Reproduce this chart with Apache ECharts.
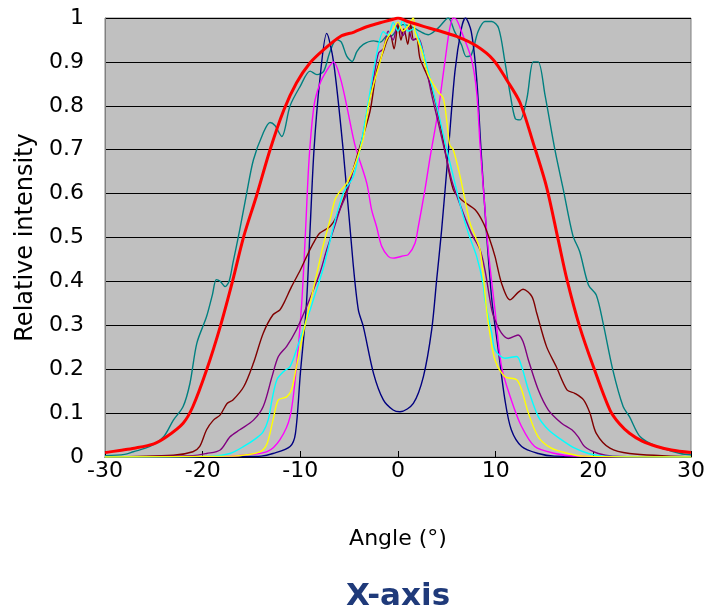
<!DOCTYPE html>
<html>
<head>
<meta charset="utf-8">
<script src="https://cdn.jsdelivr.net/npm/echarts@6/dist/echarts.min.js"></script>
<style>html,body{margin:0;padding:0;background:#fff}#c{width:709px;height:614px}</style>
</head>
<body>
<div id="c"></div>
<script>
// Tick labels
var xTicks = [-30, -20, -10, 0, 10, 20, 30];
var yTicks = [0, 0.1, 0.2, 0.3, 0.4, 0.5, 0.6, 0.7, 0.8, 0.9, 1];

// Series values: [angle (deg), relative intensity]
var teal = [[-30,0.003],[-28,0.006],[-27.1,0.012],[-25.4,0.024],[-24,0.046],[-23,0.084],[-22,0.115],[-21.3,0.168],[-20.6,0.259],[-19.6,0.32],[-19.0,0.37],[-18.6,0.404],[-18.2,0.40],[-17.7,0.388],[-17.3,0.40],[-16.9,0.442],[-16.2,0.518],[-15.5,0.6],[-14.8,0.677],[-13.8,0.738],[-13.1,0.762],[-12.6,0.755],[-11.9,0.73],[-11.05,0.80],[-10,0.845],[-9,0.879],[-8.3,0.871],[-7.6,0.879],[-7,0.921],[-6.3,0.951],[-5.8,0.945],[-5.25,0.913],[-4.7,0.901],[-4.2,0.924],[-3.55,0.94],[-2.5,0.948],[-1.8,0.945],[-1.2,0.958],[-0.6,0.96],[-0.1,0.974],[0.5,0.985],[1.4,0.98],[2.2,0.97],[3.1,0.962],[4.1,0.977],[5.15,1.0],[5.8,0.969],[6.5,0.939],[7,0.912],[7.5,0.916],[8.2,0.969],[8.9,0.992],[9.6,0.992],[10.3,0.977],[10.95,0.90],[11.5,0.825],[12,0.771],[12.5,0.768],[13.2,0.817],[13.85,0.90],[14.35,0.90],[15.05,0.825],[16.1,0.696],[16.9,0.612],[17.9,0.505],[18.6,0.468],[19.5,0.392],[20.3,0.369],[21,0.305],[22,0.198],[23.05,0.115],[23.7,0.092],[24.8,0.046],[26.5,0.024],[28.9,0.008],[30,0.005]];
var navy = [[-30,0],[-16,0.001],[-14,0.002],[-12.8,0.008],[-11.05,0.024],[-10.5,0.054],[-10.0,0.19],[-9.4,0.34],[-9.0,0.52],[-8.6,0.70],[-8.0,0.86],[-7.3,0.965],[-6.6,0.90],[-5.6,0.696],[-4.6,0.442],[-4.06,0.335],[-3.55,0.297],[-2.5,0.19],[-1.5,0.13],[-0.5,0.107],[0.2,0.103],[1.57,0.122],[2.6,0.183],[3.45,0.29],[3.96,0.404],[4.47,0.518],[5.15,0.696],[5.83,0.878],[6.5,0.977],[6.9,1.0],[7.5,0.969],[8.05,0.863],[8.5,0.70],[9.0,0.53],[9.6,0.36],[10.27,0.244],[10.95,0.13],[11.6,0.062],[12.66,0.024],[14.36,0.008],[16,0.002],[30,0]];
var magenta = [[-30,0],[-17,0.002],[-15.5,0.005],[-13.4,0.012],[-12.1,0.039],[-11.05,0.092],[-10.4,0.206],[-9.86,0.35],[-9.5,0.5],[-9.1,0.68],[-8.6,0.80],[-8.0,0.85],[-7.3,0.88],[-6.6,0.90],[-5.9,0.863],[-5.25,0.80],[-4.4,0.71],[-3.2,0.624],[-2.7,0.563],[-2.2,0.525],[-1.67,0.48],[-1.0,0.457],[-0.5,0.453],[0,0.455],[0.5,0.458],[1.05,0.461],[1.74,0.487],[2.08,0.525],[2.76,0.609],[3.3,0.685],[4.1,0.787],[4.8,0.90],[5.3,0.977],[5.66,1.0],[6.0,0.996],[6.5,0.969],[7.5,0.908],[8.05,0.832],[8.4,0.711],[8.7,0.624],[9.24,0.472],[9.93,0.335],[10.6,0.206],[11.6,0.13],[12.66,0.069],[14,0.024],[16.1,0.008],[18,0.002],[30,0]];
var maroon = [[-30,0],[-23,0.004],[-21,0.012],[-20.3,0.024],[-19.6,0.062],[-18.9,0.084],[-18.2,0.096],[-17.5,0.122],[-16.9,0.13],[-15.8,0.16],[-14.8,0.214],[-13.8,0.282],[-12.8,0.324],[-12.1,0.335],[-11.7,0.35],[-10.9,0.388],[-10.0,0.426],[-9.35,0.457],[-8.67,0.487],[-8.0,0.51],[-6.96,0.525],[-6.27,0.548],[-5.6,0.586],[-4.9,0.632],[-4.0,0.70],[-2.87,0.787],[-2.2,0.878],[-1.5,0.924],[-1.1,0.95],[-0.8,0.962],[-0.4,0.93],[0,0.985],[0.3,0.95],[0.6,0.975],[1.0,0.94],[1.3,0.985],[1.6,0.95],[1.9,0.954],[2.25,0.908],[3.1,0.863],[3.8,0.81],[4.47,0.741],[4.8,0.70],[5.66,0.609],[6.5,0.586],[7.9,0.563],[8.74,0.533],[9.4,0.495],[9.93,0.457],[10.6,0.396],[11.46,0.358],[12.3,0.375],[12.8,0.382],[13.7,0.366],[14.2,0.328],[15.2,0.252],[16.2,0.206],[17.3,0.153],[18.1,0.145],[19.0,0.13],[19.65,0.10],[20.3,0.054],[21.7,0.02],[23.7,0.008],[30,0]];
var purple = [[-30,0],[-21,0.003],[-19.6,0.008],[-18.2,0.016],[-17.2,0.046],[-16.2,0.062],[-14.8,0.084],[-13.8,0.115],[-12.9,0.183],[-12.25,0.229],[-11.4,0.252],[-10.4,0.29],[-9.35,0.343],[-8.0,0.419],[-7.3,0.472],[-6.6,0.518],[-5.94,0.563],[-5.25,0.601],[-4.57,0.655],[-3.9,0.70],[-3.2,0.78],[-2.5,0.863],[-2.0,0.92],[-1.5,0.93],[-1.0,0.97],[-0.5,0.95],[0,0.99],[0.5,0.96],[1.0,0.98],[1.5,0.95],[2.08,0.954],[2.76,0.90],[3.45,0.825],[4.1,0.764],[4.8,0.696],[5.5,0.63],[6.17,0.586],[7.5,0.51],[8.4,0.472],[8.9,0.426],[9.6,0.335],[9.93,0.312],[10.6,0.282],[11.3,0.27],[12.3,0.278],[12.8,0.263],[13.35,0.221],[14.36,0.153],[15.4,0.107],[16.75,0.077],[17.8,0.062],[18.45,0.046],[19.1,0.024],[20.5,0.008],[22,0.002],[30,0]];
var cyan = [[-30,0],[-19,0.002],[-17.2,0.008],[-15.8,0.024],[-14.5,0.043],[-13.8,0.058],[-13.3,0.084],[-12.9,0.13],[-12.4,0.176],[-11.7,0.195],[-11.05,0.206],[-10.4,0.244],[-9.7,0.29],[-9.0,0.335],[-8.67,0.358],[-7.6,0.434],[-6.6,0.525],[-5.6,0.601],[-4.57,0.639],[-3.9,0.70],[-3.2,0.787],[-2.2,0.916],[-1.5,0.969],[-1.0,0.96],[-0.5,0.99],[0,0.97],[0.5,0.995],[1.0,0.97],[1.6,0.975],[2.43,0.931],[3.1,0.878],[4.1,0.787],[4.8,0.718],[5.83,0.624],[6.5,0.563],[7.2,0.51],[8.05,0.457],[8.7,0.396],[8.9,0.358],[9.6,0.282],[9.93,0.244],[10.95,0.225],[12.15,0.229],[12.66,0.206],[13.35,0.153],[14.36,0.092],[15.4,0.062],[16.75,0.039],[18.1,0.02],[19.5,0.008],[21,0.002],[30,0]];
var yellow = [[-30,0],[-17,0.002],[-15.5,0.005],[-14.1,0.012],[-13.4,0.031],[-12.8,0.084],[-12.25,0.13],[-11.4,0.137],[-10.9,0.153],[-10.4,0.206],[-9.7,0.282],[-9.0,0.35],[-8.3,0.419],[-7.6,0.487],[-6.96,0.54],[-6.45,0.586],[-5.94,0.605],[-5.25,0.624],[-4.5,0.66],[-3.9,0.70],[-3.55,0.726],[-2.87,0.817],[-1.84,0.90],[-1.2,0.95],[-0.6,0.97],[0,0.99],[0.5,0.97],[1.0,0.98],[1.57,1.0],[1.74,0.969],[2.43,0.924],[3.1,0.87],[4.1,0.832],[4.64,0.817],[5.0,0.764],[5.3,0.711],[5.66,0.70],[6.35,0.64],[6.86,0.586],[7.37,0.533],[8.05,0.495],[8.4,0.472],[8.74,0.411],[9.07,0.335],[9.4,0.282],[9.93,0.221],[10.95,0.183],[12.15,0.176],[12.66,0.153],[13.35,0.10],[14.36,0.046],[15.7,0.02],[17.4,0.008],[19,0.002],[30,0]];
var red = [[-30,0.01],[-28.5,0.015],[-27,0.02],[-25,0.03],[-23.7,0.046],[-22,0.077],[-21,0.115],[-19.6,0.198],[-18.2,0.297],[-16.9,0.404],[-15.8,0.502],[-14.5,0.594],[-13.1,0.70],[-11.7,0.79],[-10.4,0.852],[-9,0.898],[-7.6,0.928],[-5.9,0.958],[-4.5,0.968],[-3.2,0.98],[-2,0.988],[-0.5,0.997],[0,1.0],[1,0.992],[2.6,0.981],[4,0.972],[6,0.958],[8.05,0.936],[9.75,0.905],[11.1,0.86],[12.5,0.807],[13.85,0.715],[15.2,0.616],[16.4,0.495],[17.3,0.404],[18.6,0.297],[20,0.206],[21.7,0.107],[22.7,0.075],[23.7,0.054],[25,0.036],[26.5,0.024],[28,0.016],[30,0.01]];

var seriesDefs = [
  {name:'teal', data:teal, color:'#008080', width:1.4},
  {name:'navy', data:navy, color:'#000080', width:1.4},
  {name:'magenta', data:magenta, color:'#ff00ff', width:1.4},
  {name:'maroon', data:maroon, color:'#800000', width:1.4},
  {name:'purple', data:purple, color:'#800080', width:1.4},
  {name:'cyan', data:cyan, color:'#00ffff', width:1.4},
  {name:'yellow', data:yellow, color:'#ffff00', width:1.4},
  {name:'red', data:red, color:'#ff0000', width:3}
];

var font = '"DejaVu Sans", Arial, sans-serif';
var chart = echarts.init(document.getElementById('c'), null, {renderer:'canvas'});
chart.setOption({
  animation:false,
  backgroundColor:'#ffffff',
  grid:{left:105, right:18, top:18, bottom:157, show:true, backgroundColor:'#c0c0c0', borderColor:'#808080', borderWidth:1},
  xAxis:{
    type:'value', min:xTicks[0], max:xTicks[xTicks.length-1], interval:10,
    name:'Angle (°)', nameLocation:'middle', nameGap:71,
    nameTextStyle:{fontFamily:font, fontSize:22, color:'#000'},
    axisLine:{show:true, onZero:false, lineStyle:{color:'#000', width:1}},
    axisTick:{show:true, inside:true, length:6, lineStyle:{color:'#000'}},
    axisLabel:{fontFamily:font, fontSize:22, color:'#000', margin:3},
    splitLine:{show:false}
  },
  yAxis:{
    type:'value', min:yTicks[0], max:yTicks[yTicks.length-1], interval:0.1,
    name:'Relative intensity', nameLocation:'middle', nameGap:65,
    nameTextStyle:{fontFamily:font, fontSize:24, color:'#000'},
    axisLine:{show:true, onZero:false, lineStyle:{color:'#808080', width:1}},
    axisTick:{show:false},
    axisLabel:{fontFamily:font, fontSize:22, color:'#000', margin:21,
      formatter:function(v){return String(Math.round(v*10)/10);}},
    splitLine:{show:true, lineStyle:{color:'#000', width:1}}
  },
  graphic:[{type:'text', x:398, y:597, style:{text:'X-axis', font:'bold 31px "DejaVu Sans", Arial, sans-serif', fill:'#1f3a7a', textAlign:'center', textVerticalAlign:'middle'}}],
  series: seriesDefs.map(function(s){
    return {type:'line', name:s.name, data:s.data, showSymbol:false, symbol:'none', smooth:0.3,
      lineStyle:{color:s.color, width:s.width}, itemStyle:{color:s.color}, z:2};
  })
});
</script>
</body>
</html>
